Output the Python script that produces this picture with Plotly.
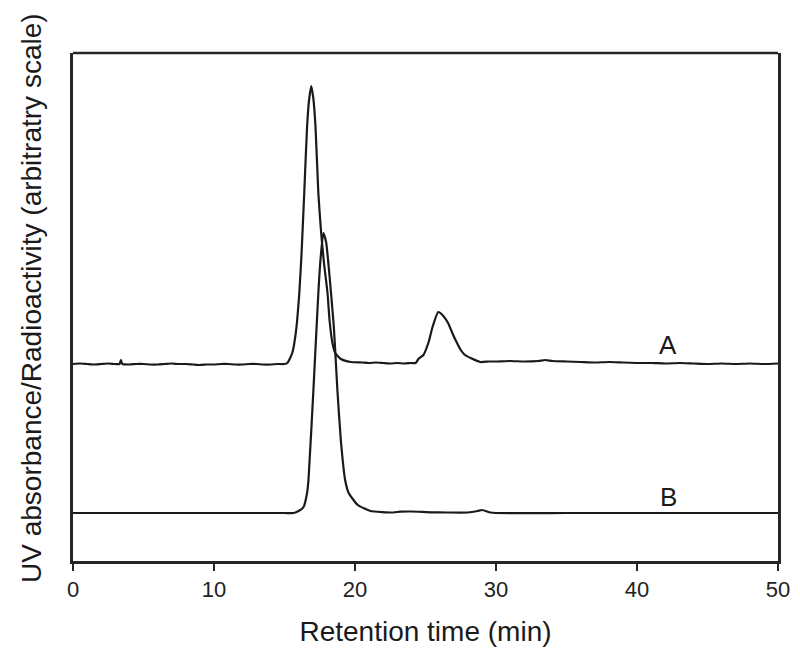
import plotly.graph_objects as go

# Retention time (min) and signal height (arbitrary units)
time_a = [0, 0.5, 1, 1.5, 2, 2.5, 3, 3.3, 3.4, 3.5, 4, 4.5, 5, 5.5, 6, 6.5, 7, 7.5,
          8, 8.5, 9, 9.5, 10, 10.5, 11, 11.5, 12, 12.5, 13, 13.5, 14, 14.5, 15,
          15.2, 15.55, 15.8, 16.05, 16.2, 16.4, 16.6, 16.75, 16.9, 17.05, 17.2,
          17.4, 17.6, 17.8, 18.05, 18.2, 18.4, 18.6, 19.0, 19.7, 20.5, 21, 21.5,
          22, 22.5, 23, 23.5, 24, 24.3, 24.5, 24.85, 25.2, 25.5, 25.9, 26.2, 26.6,
          26.9, 27.2, 27.5, 27.8, 28.2, 28.9, 29.5, 30, 31, 32, 33, 33.5, 34, 35,
          36, 37, 38, 39, 40, 41, 42, 43, 44, 45, 46, 47, 48, 49, 50]
signal_a = [197, 197.5, 197, 196.5, 197, 197.5, 197, 197, 201, 197, 196.5, 197, 197,
            196.5, 196.5, 197, 197.5, 197, 197, 196.5, 196, 196.5, 196.5, 197, 197,
            196.5, 196.5, 197, 197, 196.5, 196.5, 197, 197, 198, 208, 228, 268, 305,
            368, 434, 462, 475, 462, 434, 368, 328, 298, 268, 240, 218, 208, 202, 199,
            198.5, 198, 198.5, 198, 197.5, 198, 197.5, 198, 198, 202, 206, 218, 234,
            249, 246, 238, 228, 219, 211, 206, 203, 199, 199.5, 199.5, 200, 199.5,
            200, 201, 200, 199.5, 199, 198.5, 199, 198.5, 198, 198, 197.5, 198,
            197.5, 197, 197.5, 197, 197.5, 197, 197.5, 197]

time_b = [0, 5, 10, 15, 15.65, 16.0, 16.35, 16.6, 16.7, 17.05, 17.4, 17.55, 17.75,
          17.95, 18.2, 18.5, 18.75, 19.0, 19.3, 19.55, 20.2, 21.1, 22.7, 23.2, 24,
          25.4, 26.5, 28, 28.7, 29.0, 29.6, 30, 35, 40, 45, 50]
signal_b = [48, 48, 48, 48, 48, 50, 54, 68, 81, 171, 268, 301, 328, 319, 284, 234,
            171, 120, 81, 68, 56, 50, 48.5, 49.3, 49.5, 48.7, 48.5, 48.5, 50, 51,
            48.5, 48, 48, 48, 48, 48]

curve_labels = ['A', 'B']
label_x = [42.2, 42.2]
label_y = [216, 64]

x_ticks = [0, 10, 20, 30, 40, 50]

FONT = 'Arial, Liberation Sans, sans-serif'
INK = '#1a1a1a'
FRAME = '#262626'

fig = go.Figure()
for t, s in [(time_a, signal_a), (time_b, signal_b)]:
    fig.add_trace(go.Scatter(
        x=t, y=s, mode='lines',
        line=dict(color=INK, width=2.2, shape='spline', smoothing=0.5),
        showlegend=False,
    ))

for txt, lx, ly in zip(curve_labels, label_x, label_y):
    fig.add_annotation(
        x=lx, y=ly, text=txt, showarrow=False,
        font=dict(family=FONT, size=26, color=INK),
    )

# y title sits a bit above the plot centre in the original, so place it by hand
fig.add_annotation(
    text='UV absorbance/Radioactivity (arbitratry scale)',
    xref='paper', yref='paper', x=-0.058, y=0.518,
    xanchor='center', yanchor='middle', textangle=-90, showarrow=False,
    font=dict(family=FONT, size=28, color=INK),
)

# top edge of the frame (no ticks there)
fig.add_shape(
    type='line', xref='paper', yref='paper', x0=0, x1=1, y0=1, y1=1,
    line=dict(color=FRAME, width=2.5), layer='above',
)

fig.update_xaxes(
    range=[0, 50],
    tickvals=x_ticks,
    ticks='outside', ticklen=7, tickwidth=2, tickcolor=FRAME,
    showline=True, linewidth=2.5, linecolor=FRAME,
    showgrid=False, zeroline=False,
    tickfont=dict(family=FONT, size=22, color='#222'),
    title=dict(text='Retention time (min)', standoff=21,
               font=dict(family=FONT, size=28, color=INK)),
)
fig.update_yaxes(
    range=[0, 508],
    showticklabels=False, ticks='',
    showline=True, linewidth=2.5, linecolor=FRAME, mirror=True,
    showgrid=False, zeroline=False,
)

# page body adds an 8px offset, so the figure is shrunk by that much
fig.update_layout(
    width=792, height=649,
    margin=dict(l=65, r=22, t=45, b=96, autoexpand=False),
    plot_bgcolor='white', paper_bgcolor='white',
)

fig.write_html('out.html')
